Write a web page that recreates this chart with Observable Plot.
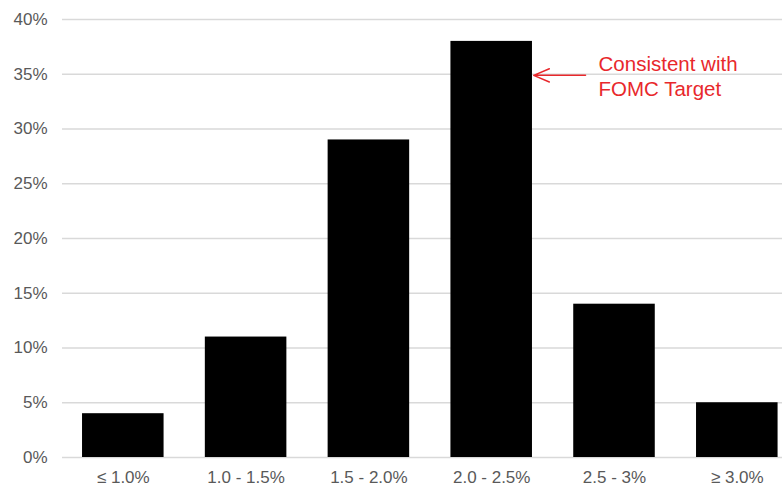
<!DOCTYPE html>
<html>
<head>
<meta charset="utf-8">
<script src="https://cdn.jsdelivr.net/npm/d3@7"></script>
<script src="https://cdn.jsdelivr.net/npm/@observablehq/plot@0.6"></script>
<style>
  html, body { margin: 0; padding: 0; background: #fff; }
</style>
</head>
<body>
<div id="chart"></div>
<script>
// Distribution of forecasts across inflation ranges (share of respondents, %)
const categories = ["≤ 1.0%", "1.0 - 1.5%", "1.5 - 2.0%", "2.0 - 2.5%", "2.5 - 3%", "≥ 3.0%"];
const shares = [4, 11, 29, 38, 14, 5];
const yTicks = [0, 5, 10, 15, 20, 25, 30, 35, 40];

// Callout pointing at the bin that matches the FOMC target
const calloutLines = ["Consistent with", "FOMC Target"];
const calloutIndex = categories.indexOf("2.0 - 2.5%");
const calloutLevel = 34.9;

const halfBar = 0.332; // half of each bar's width, in category steps
const rows = categories.map((c, i) => ({i, category: c, share: shares[i]}));

const red = "#e8282c";

const chart = Plot.plot({
  width: 782,
  height: 486,
  marginLeft: 62,
  marginRight: 0,
  marginTop: 19,
  marginBottom: 29,
  style: {
    fontFamily: "'Liberation Sans', Arial, Helvetica, sans-serif",
    fontSize: "17px",
    color: "#595959",
    background: "#fff"
  },
  x: {domain: [-0.5, categories.length - 0.5], range: [61.4, 798.2]},
  y: {domain: [0, 40]},
  marks: [
    Plot.ruleY(yTicks, {stroke: "#d9d9d9", strokeWidth: 1.3}),
    Plot.rectY(rows, {
      x1: d => d.i - halfBar,
      x2: d => d.i + halfBar,
      y: "share",
      fill: "#000"
    }),
    Plot.axisY({
      ticks: yTicks,
      tickSize: 0,
      tickPadding: 15,
      tickFormat: d => d + "%",
      label: null,
      fill: "#595959"
    }),
    Plot.axisX({
      ticks: d3.range(categories.length),
      tickSize: 0,
      tickPadding: 13,
      tickFormat: i => categories[i],
      label: null,
      fill: "#595959"
    }),
    Plot.arrow([calloutIndex], {
      x1: i => i + 0.764,
      x2: i => i + halfBar + 0.01,
      y1: calloutLevel,
      y2: calloutLevel,
      stroke: red,
      strokeWidth: 1.5,
      headLength: 17,
      headAngle: 46
    }),
    Plot.text([calloutIndex], {
      x: i => i + 0.87,
      y: calloutLevel,
      text: () => calloutLines.join("\n"),
      textAnchor: "start",
      lineAnchor: "middle",
      lineHeight: 1.2,
      fontSize: 20.5,
      fill: red
    })
  ]
});

document.getElementById("chart").appendChild(chart);
</script>
</body>
</html>
